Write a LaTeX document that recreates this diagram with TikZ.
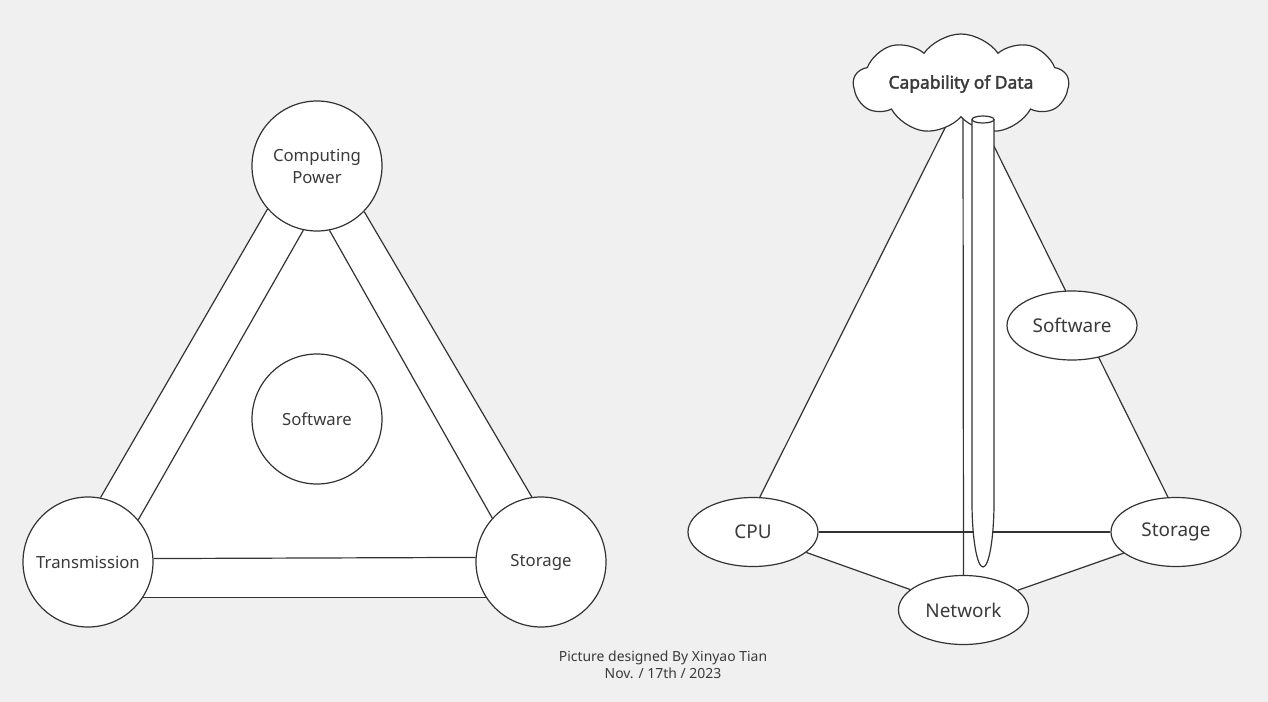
\documentclass[tikz,border=0pt]{standalone}
\usepackage{fontspec}
\setmainfont{Noto Sans}
\newfontfamily\cloudfont{Noto Sans}[FakeBold=2.2]
\usetikzlibrary{shapes.symbols,shapes.geometric}
\definecolor{bg}{HTML}{F0F0F0}
\definecolor{ln}{HTML}{333333}
\definecolor{tx}{HTML}{3A3A3A}
\pgfdeclarelayer{bgfill}
\pgfdeclarelayer{mid}
\pgfsetlayers{bgfill,mid,main}
\begin{document}
\begin{tikzpicture}[x=1bp,y=-1bp,
  circ/.style={circle, draw=ln, line width=1.2bp, fill=white, minimum size=130bp, inner sep=0pt, text=tx, font=\fontsize{16.8}{22}\selectfont, align=center},
  ell/.style={ellipse, draw=ln, line width=1.2bp, fill=white, minimum width=130bp, minimum height=69bp, inner sep=0pt, text=tx, font=\fontsize{19}{22}\selectfont},
  edge/.style={draw=ln, line width=1.2bp},
  cloudbox/.style={cloud, cloud puffs=9, cloud puff arc=110, cloud ignores aspect, draw=ln, line width=1.2bp, fill=white, minimum width=215bp, minimum height=100bp, inner sep=0pt, text=tx, font=\cloudfont\fontsize{17.5}{20}\selectfont},
  foottext/.style={text=tx, font=\fontsize{14}{17}\selectfont, align=center}
]
\begin{pgfonlayer}{bgfill}
\fill[bg] (0,0) rectangle (1268,702);
\end{pgfonlayer}
\useasboundingbox (0,0) rectangle (1268,702);

% ---------- left diagram ----------
\node[circ] (cp) at (317,166) {Computing\\Power};
\node[circ] (sw) at (317,419) {Software};
\node[circ] (tr) at (88,562) {Transmission};
\node[circ] (st) at (541,562) {Storage};

\begin{pgfonlayer}{mid}
\fill[white] (cp.221.5) -- (tr.79.5) -- (tr.-33.3) -- (st.213.3) -- (st.98.7) -- (cp.316.8) -- cycle;
\draw[edge] (cp.221.5) -- (tr.79.5);
\draw[edge] (cp.258) -- (tr.40.8);
\draw[edge] (cp.281) -- (st.138);
\draw[edge] (cp.316.8) -- (st.98.7);
\draw[edge] (tr.3.5) -- (st.176.5);
\draw[edge] (tr.-33.3) -- (st.213.3);
\end{pgfonlayer}

% ---------- right diagram ----------
\node[ell] (cpu) at (753,532) {CPU};
\node[ell] (net) at (963.5,610) {Network};
\node[ell] (st2) at (1176,532) {Storage};
\node[ell] (sw2) at (1072,325.5) {Software};
\node[cloudbox] (cl) at (961,84) {Capability of Data};
\coordinate (apL) at (954,110);
\coordinate (apR) at (976,110);
\coordinate (tl) at (963,115);

\begin{pgfonlayer}{mid}
\fill[white] (apL) -- (cpu.79) -- (cpu.center) -- (net.center) -- (st2.center) -- (st2.103) -- (apR) -- cycle;
\draw[edge] (apL) -- (cpu.79);
\draw[edge] (apR) -- (st2.103);
\draw[edge] (cpu.east) -- (st2.west);
\draw[edge] (cpu.-21) -- (net.159.5);
\draw[edge] (net.20.4) -- (st2.202.5);
\draw[edge] (tl) -- (net.north);
\end{pgfonlayer}

% tube
\filldraw[draw=ln, fill=white, line width=1.2bp] (972,119.5) -- (972,502) arc[start angle=180, end angle=0, x radius=11, y radius=65] -- (994,119.5);
\filldraw[draw=ln, fill=white, line width=1.2bp] (983,119.5) ellipse[x radius=11, y radius=3.5];

% footer
\node[foottext] (foot) at (663,664.5) {Picture designed By Xinyao Tian\\Nov. / 17th / 2023};
\end{tikzpicture}
\end{document}
